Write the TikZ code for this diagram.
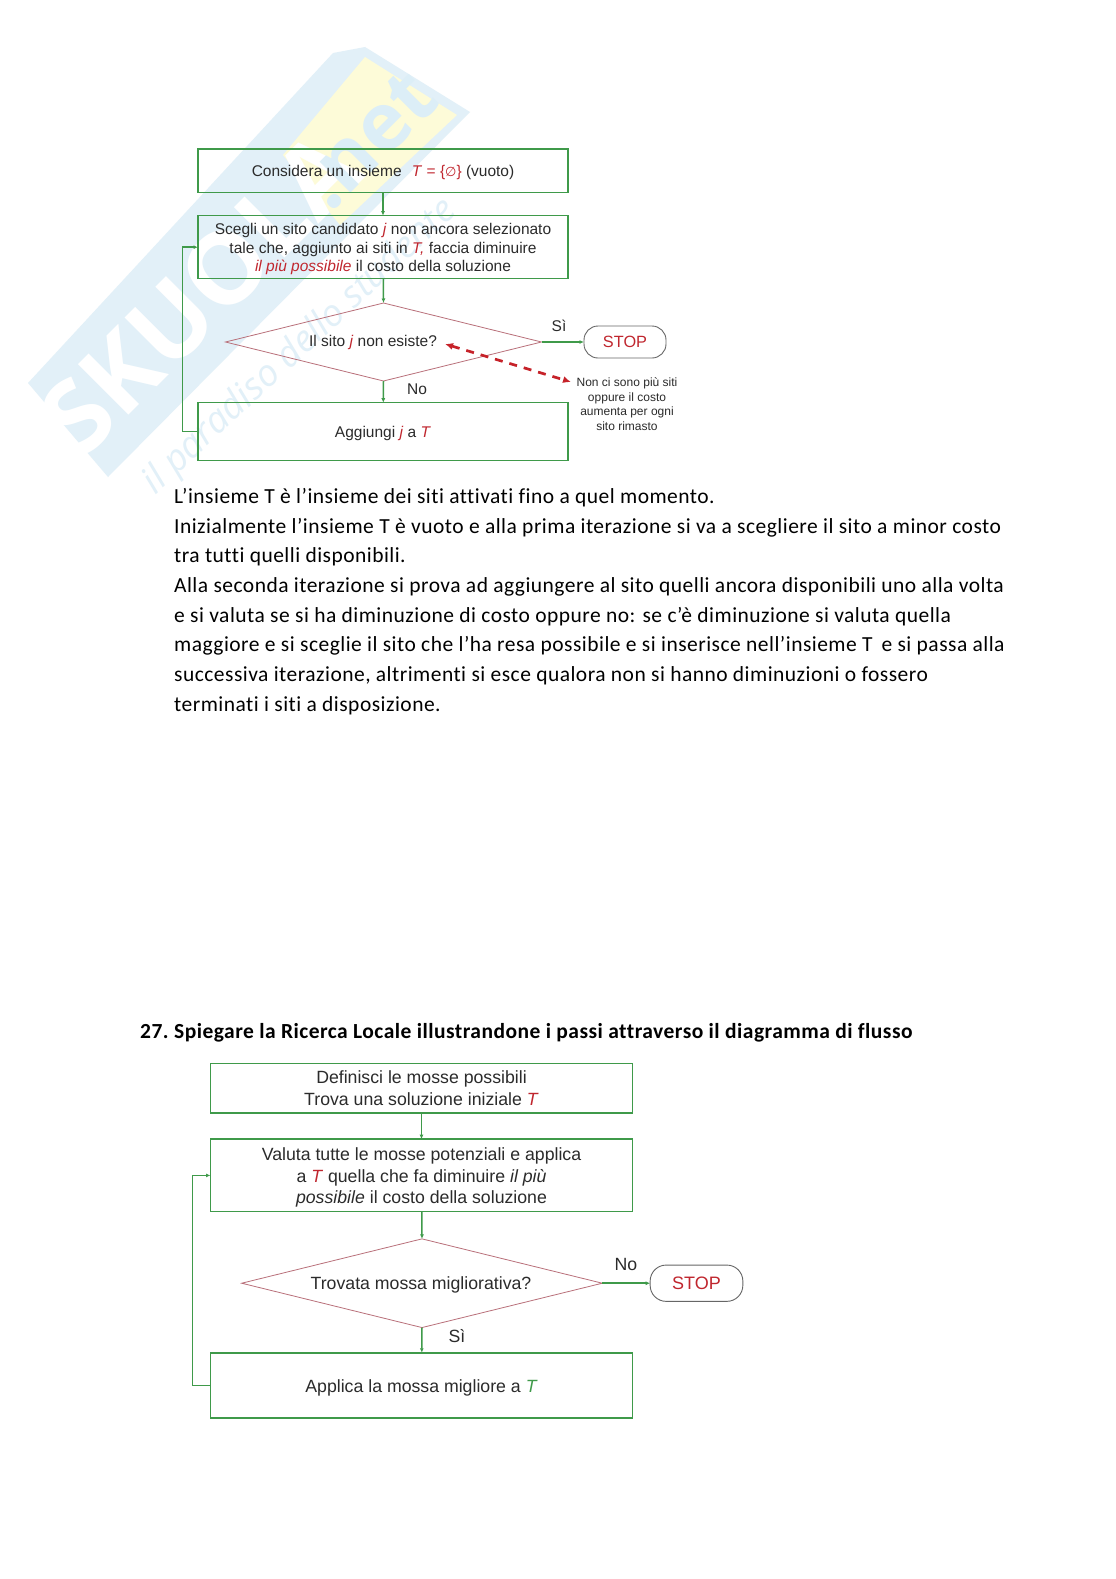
\documentclass[tikz,border=0pt]{standalone}
\usepackage{fontspec}
\setmainfont{Carlito}[LetterSpace=2.2,Ligatures=NoCommon]
\newfontfamily\diag{Liberation Sans}
\newfontfamily\wm{Open Sans}
\newfontfamily\djv{DejaVu Sans}
\usetikzlibrary{shapes.geometric,arrows.meta,calc}
\definecolor{gbox}{HTML}{3F9A4A}
\definecolor{rdia}{HTML}{B9707A}
\definecolor{rtxt}{HTML}{C0262E}
\definecolor{ink}{HTML}{2B2B2B}
\definecolor{wblue}{HTML}{E2F0F8}
\definecolor{wyel}{HTML}{FDFBD8}
\definecolor{wnet}{HTML}{DCEEF7}
\newcommand{\rd}[1]{\textcolor{rtxt}{\textit{#1}}}
\newcommand{\upa}{\rule{0pt}{15.5pt}}
\newcommand{\upb}{\rule{0pt}{17pt}}
\tikzset{
  x=1pt,y=-1pt,
  flowbox/.style={draw=gbox,line width=1.5pt,rectangle,inner sep=0pt,outer sep=0pt,text=ink,align=center},
  dia/.style={draw=rdia,line width=0.8pt,diamond,inner sep=0pt,outer sep=0pt},
  stopbox/.style={draw=gray!80!black,line width=0.9pt,rectangle,rounded corners=14pt,inner sep=0pt,outer sep=0pt,text=rtxt},
  flow/.style={draw=gbox,line width=1.5pt,-{Latex[length=4.5pt,width=4pt]}},
  body/.style={anchor=base west,inner sep=0pt,font=\fontsize{21.5}{24}\selectfont,text=black},
  lab/.style={inner sep=0pt,text=ink},
}
\begin{document}
\begin{tikzpicture}
\useasboundingbox (0,0) rectangle (1116,1579);
\fill[white] (0,0) rectangle (1116,1579);
% watermark
\fill[wblue] (28,383) -- (333,53) -- (365,47) -- (470,112) -- (108,477) -- cycle;
\fill[wyel] (283,155) -- (365,57) -- (457,115) -- (340,225) -- cycle;
\node[rotate=45,text=white,font=\wm\bfseries\fontsize{100}{100}\selectfont,inner sep=0pt] (wmA) at (200,293) {SKUOLA};
\node[rotate=45,text=wnet,font=\wm\bfseries\fontsize{80}{80}\selectfont,inner sep=0pt] (wmB) at (368,140) {.net};
\node[rotate=43,text=wblue,font=\wm\itshape\fontsize{37}{37}\selectfont,inner sep=0pt] (wmC) at (300,347) {il paradiso dello studente};
% diagram 1
\begin{scope}[font=\diag\fontsize{15.5}{18.6}\selectfont]
\node[flowbox,minimum width=370pt,minimum height=43.5pt] (a1) at (383,170.6) {\upa Considera un insieme\hspace{6pt} \rd{T} \textcolor{rtxt}{= \{{\djv\fontsize{13}{13}\selectfont ∅}\}} (vuoto)};
\node[flowbox,minimum width=370pt,minimum height=63pt] (a2) at (383,247.2) {\upa Scegli un sito candidato \rd{j} non ancora selezionato\\tale che, aggiunto ai siti in \rd{T,} faccia diminuire\\\rd{il più possibile} il costo della soluzione};
\node[dia,minimum width=316pt,minimum height=78pt] (a3) at (383.5,342) {};
\node[lab] (a3t) at (373,342.5) {Il sito \rd{j} non esiste?};
\node[flowbox,minimum width=370pt,minimum height=58pt] (a4) at (383,431.7) {\upa Aggiungi \rd{j} a \rd{T}};
\node[stopbox,minimum width=82pt,minimum height=32pt,font=\diag\fontsize{16.3}{18}\selectfont] (a5) at (625,342) {STOP};
\node[lab] (a6) at (559,325.5) {Sì};
\node[lab] (a7) at (417,389) {No};
\node[lab,align=center,font=\diag\fontsize{12}{14.6}\selectfont] (a8) at (627,404) {Non ci sono più siti\\oppure il costo\\aumenta per ogni\\sito rimasto};
\end{scope}
\coordinate (d1) at (445,344);
\coordinate (d2) at (571,382);
\draw[flow] (a1) -- (a2);
\draw[flow] (a2) -- (a3.north);
\draw[flow] (a3.south) -- (a4);
\draw[flow] (a3.east) -- (a5);
\draw[flow] (a4.west) -- ++(-15.5,0) |- (a2.west);
\draw[rtxt!90!red,line width=2.7pt,dash pattern=on 8pt off 7pt,{Latex[length=8pt,width=7pt]}-{Latex[length=8pt,width=7pt]}] (d1) -- (d2);
% body text
\node[body] (t1) at (174,503.5) {L’insieme T è l’insieme dei siti attivati fino a quel momento.};
\node[body] (t2) at (174,533) {Inizialmente l’insieme T è vuoto e alla prima iterazione si va a scegliere il sito a minor costo};
\node[body] (t3) at (174,562.5) {tra tutti quelli disponibili.};
\node[body] (t4) at (174,592.5) {Alla seconda iterazione si prova ad aggiungere al sito quelli ancora disponibili uno alla volta};
\node[body] (t5) at (174,622) {e si valuta se si ha diminuzione di costo oppure no: se c’è diminuzione si valuta quella};
\node[body] (t6) at (174,651.5) {maggiore e si sceglie il sito che l’ha resa possibile e si inserisce nell’insieme T\, e si passa alla};
\node[body] (t7) at (174,681) {successiva iterazione, altrimenti si esce qualora non si hanno diminuzioni o fossero};
\node[body] (t8) at (174,711) {terminati i siti a disposizione.};
\node[body,font=\fontsize{21.5}{24}\selectfont\bfseries] (h1) at (140,1038) {27.};
\node[body,font=\fontsize{21.5}{24}\selectfont\bfseries] (h2) at (174,1038) {Spiegare la Ricerca Locale illustrandone i passi attraverso il diagramma di flusso};
% diagram 2
\begin{scope}[font=\diag\fontsize{17.7}{21.7}\selectfont]
\node[flowbox,minimum width=422pt,minimum height=49.5pt] (b1) at (421.5,1088.3) {Definisci le mosse possibili\\Trova una soluzione iniziale \rd{T}};
\node[flowbox,minimum width=422pt,minimum height=72.5pt] (b2) at (421.5,1175.4) {\upb Valuta tutte le mosse potenziali e applica\\a \rd{T} quella che fa diminuire \textit{il più}\\\textit{possibile} il costo della soluzione};
\node[dia,minimum width=360.6pt,minimum height=88.7pt] (b3) at (422,1283.2) {};
\node[lab] (b3t) at (421,1284.5) {Trovata mossa migliorativa?};
\node[flowbox,minimum width=422pt,minimum height=65.3pt] (b4) at (421.5,1385.4) {\upb Applica la mossa migliore a \textcolor{gbox}{\textit{T}}};
\node[stopbox,minimum width=92.7pt,minimum height=36.3pt,rounded corners=16pt,font=\diag\fontsize{18}{20}\selectfont] (b5) at (696.5,1283.2) {STOP};
\node[lab] (b6) at (626,1264.5) {No};
\node[lab] (b7) at (457,1336) {Sì};
\end{scope}
\draw[flow] (b1) -- (b2);
\draw[flow] (b2) -- (b3.north);
\draw[flow] (b3.south) -- (b4);
\draw[flow] (b3.east) -- (b5);
\draw[flow] (b4.west) -- ++(-18,0) |- (b2.west);
\end{tikzpicture}
\end{document}
